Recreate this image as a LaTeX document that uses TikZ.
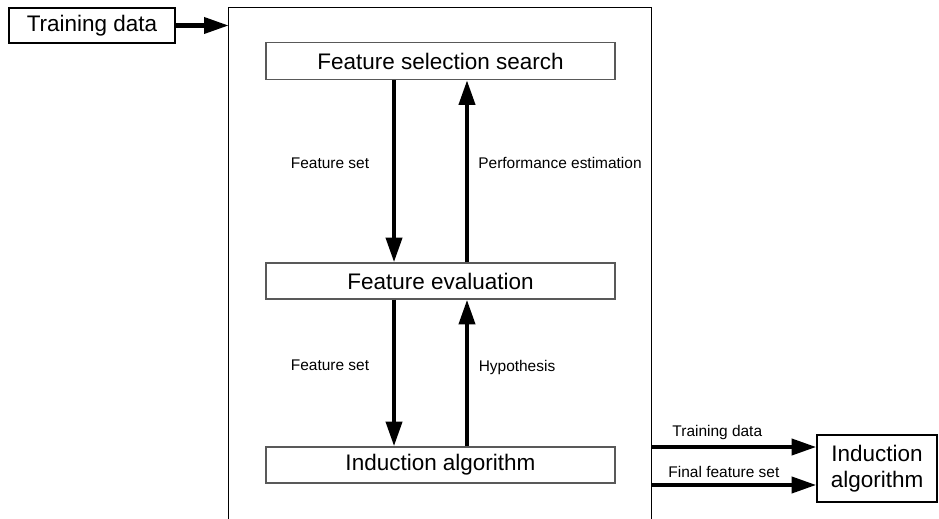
\documentclass[tikz,border=0pt]{standalone}
\usepackage{fontspec}
\setmainfont{Liberation Sans}
\usepackage{xcolor}
\usepackage{tikz}
\usetikzlibrary{positioning,arrows.meta,calc}
\tikzset{
  flow/.style={-{Triangle[length=14pt, width=9pt]}, line width=2.4pt, draw=black},
  every node/.style={anchor=center}
}

\begin{document}
\begin{tikzpicture}[
  x=0.02cm, y=-0.02cm,
  bigfont/.style={font=\fontsize{12.8}{15}\selectfont},
  lbl/.style={font=\fontsize{8.8}{10.5}\selectfont, inner sep=1pt},
  outbox/.style={draw=black, line width=0.8pt, inner sep=0pt, align=center, bigfont},
  inbox/.style={draw=black!65, line width=0.8pt, inner sep=0pt, minimum width=6.98cm, bigfont},
  frame/.style={draw=black, line width=0.8pt}
]
\useasboundingbox (0,0) rectangle (939,519);

% outer frame (bottom edge lies below the page)
\node[minimum width=8.44cm, minimum height=10.64cm, inner sep=0pt] (outer) at (440,274) {};
\draw[frame] (outer.south west) |- (outer.north east) -- (outer.south east);

\node[outbox, minimum width=3.32cm, minimum height=0.70cm] (train) at (92,25.5) {Training data};
\node[inbox, minimum height=0.74cm] (fss) at (440.5,61) {Feature selection search};
\node[inbox, minimum height=0.72cm] (feval) at (440.5,281) {Feature evaluation};
\node[inbox, minimum height=0.72cm] (induct) at (440.5,465) {Induction algorithm};
\node[outbox, minimum width=2.4cm, minimum height=1.34cm] (indright) at (877,468.5) {Induction\\algorithm};

\node[lbl] (fsetA) at (330,163) {Feature set};
\node[lbl] (perf) at (560,163) {Performance estimation};
\node[lbl] (fsetB) at (330,365) {Feature set};
\node[lbl] (hyp) at (517,368) {Hypothesis};

\draw[flow] (train.east) -- (train.east -| outer.west);

\draw[flow] ([xshift=-0.93cm]fss.south) -- ([xshift=-0.93cm]feval.north);
\draw[flow] ([xshift=0.53cm]feval.north) -- ([xshift=0.53cm]fss.south);
\draw[flow] ([xshift=-0.93cm]feval.south) -- ([xshift=-0.93cm]induct.north);
\draw[flow] ([xshift=0.53cm]induct.north) -- ([xshift=0.53cm]feval.south);

\coordinate (tdin) at ([yshift=0.43cm]indright.west);
\coordinate (ffin) at ([yshift=-0.33cm]indright.west);
\draw[flow] (tdin -| outer.east) -- node[lbl, above=2pt, pos=0.4] (tdlbl) {Training data} (tdin);
\draw[flow] (ffin -| outer.east) -- node[lbl, above=2pt, pos=0.44] (fflbl) {Final feature set} (ffin);
\end{tikzpicture}
\end{document}
